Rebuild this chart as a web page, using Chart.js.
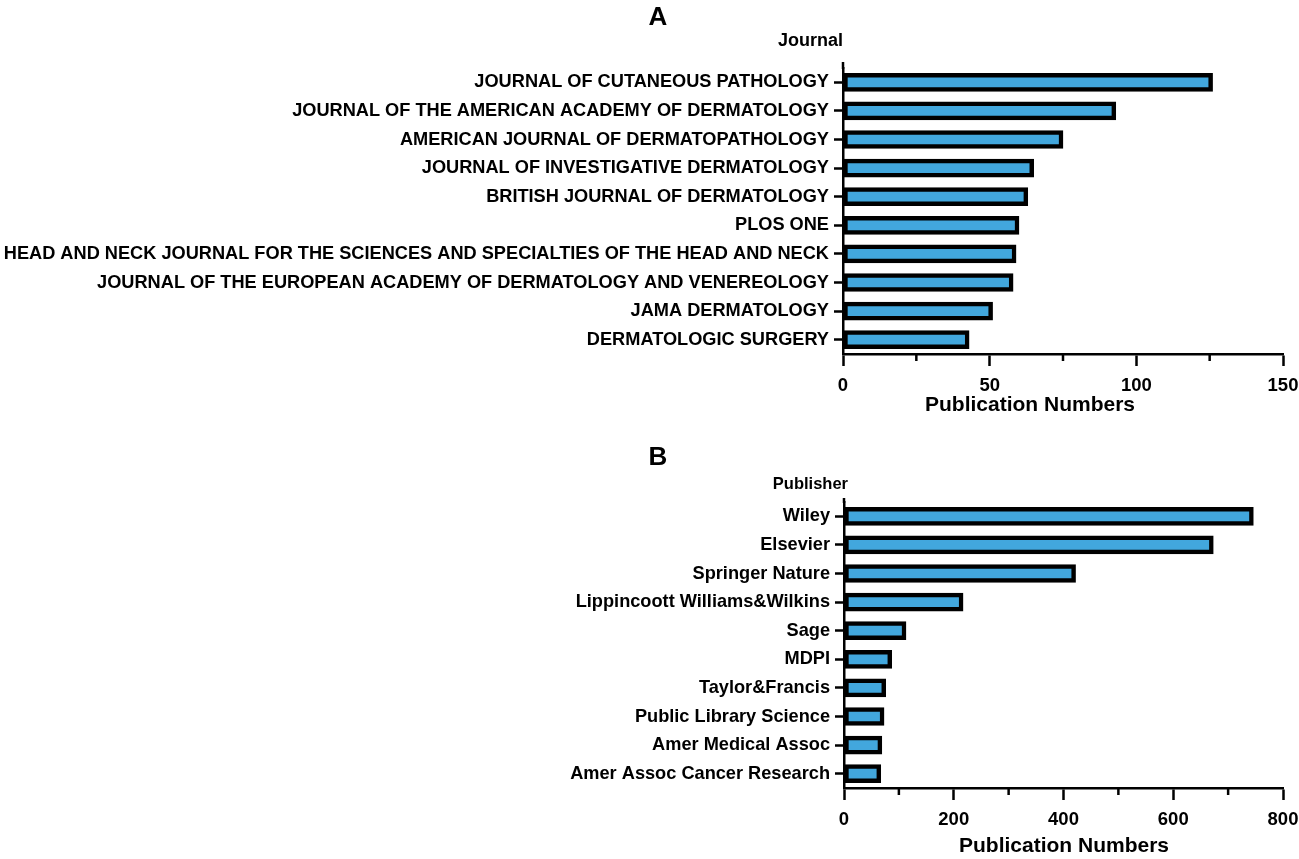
<!DOCTYPE html>
<html lang="en">
<head>
    <meta charset="UTF-8">
    <title>Journals and publishers</title>
    <script src="https://cdn.jsdelivr.net/npm/chart.js"></script>
    <style>
        html, body { margin: 0; padding: 0; background: #fff; }
        .panel { position: absolute; left: 0; width: 1299px; }
        #panelA { top: 0; height: 430px; }
        #panelB { top: 430px; height: 429px; }
    </style>
</head>
<body>
    <div class="panel" id="panelA"><canvas id="journalChart"></canvas></div>
    <div class="panel" id="panelB"><canvas id="publisherChart"></canvas></div>

    <script>
        // Panel A - journals
        const journals = [
            'JOURNAL OF CUTANEOUS PATHOLOGY',
            'JOURNAL OF THE AMERICAN ACADEMY OF DERMATOLOGY',
            'AMERICAN JOURNAL OF DERMATOPATHOLOGY',
            'JOURNAL OF INVESTIGATIVE DERMATOLOGY',
            'BRITISH JOURNAL OF DERMATOLOGY',
            'PLOS ONE',
            'HEAD AND NECK JOURNAL FOR THE SCIENCES AND SPECIALTIES OF THE HEAD AND NECK',
            'JOURNAL OF THE EUROPEAN ACADEMY OF DERMATOLOGY AND VENEREOLOGY',
            'JAMA DERMATOLOGY',
            'DERMATOLOGIC SURGERY'
        ];
        const journalCounts = [126, 93, 75, 65, 63, 60, 59, 58, 51, 43];
        const journalMajorTicks = [0, 50, 100, 150];
        const journalMinorTicks = [25, 75, 125];

        // Panel B - publishers
        const publishers = [
            'Wiley',
            'Elsevier',
            'Springer Nature',
            'Lippincoott Williams&Wilkins',
            'Sage',
            'MDPI',
            'Taylor&Francis',
            'Public Library Science',
            'Amer Medical Assoc',
            'Amer Assoc Cancer Research'
        ];
        const publisherCounts = [746, 673, 422, 217, 113, 87, 76, 73, 69, 67];
        const publisherMajorTicks = [0, 200, 400, 600, 800];
        const publisherMinorTicks = [100, 300, 500, 700];

        const FONT = "'Liberation Sans', Arial, Helvetica, sans-serif";
        const BAR_BLUE = '#42a7dd';

        // panel letter, captions, axis stub and the short minor ticks
        const decorPlugin = {
            id: 'decor',
            afterDraw(chart, args, opts) {
                const ctx = chart.ctx;
                const area = chart.chartArea;
                const xs = chart.scales.x;
                ctx.save();
                ctx.fillStyle = '#000';
                ctx.textBaseline = 'middle';
                ctx.textAlign = 'center';
                ctx.font = 'bold 26px ' + FONT;
                ctx.fillText(opts.letter, opts.letterX, opts.letterY);
                ctx.font = 'bold 21px ' + FONT;
                ctx.fillText('Publication Numbers', opts.titleX, opts.titleY);
                ctx.font = 'bold ' + opts.captionSize + 'px ' + FONT;
                ctx.textAlign = 'right';
                ctx.fillText(opts.caption, area.left + opts.captionDx, opts.captionY);

                ctx.strokeStyle = '#000';
                ctx.lineWidth = 2.5;
                // y axis line runs a little above the first category
                ctx.beginPath();
                ctx.moveTo(area.left, area.top - opts.axisStub);
                ctx.lineTo(area.left, area.top + 1);
                ctx.stroke();
                opts.minor.forEach(v => {
                    const px = xs.getPixelForValue(v);
                    ctx.beginPath();
                    ctx.moveTo(px, area.bottom);
                    ctx.lineTo(px, area.bottom + 7);
                    ctx.stroke();
                });
                ctx.restore();
            }
        };

        function makeChart(id, labels, values, majors, cfg) {
            const ctx = document.getElementById(id).getContext('2d');
            return new Chart(ctx, {
                type: 'bar',
                data: {
                    labels: labels,
                    datasets: [{
                        data: values,
                        backgroundColor: BAR_BLUE,
                        borderColor: '#000',
                        borderWidth: 4.5,
                        borderSkipped: false,
                        barThickness: 18
                    }]
                },
                options: {
                    indexAxis: 'y',
                    responsive: true,
                    maintainAspectRatio: false,
                    animation: false,
                    layout: { padding: { left: 0, right: 16, top: cfg.top, bottom: 0 } },
                    plugins: {
                        legend: { display: false },
                        tooltip: { enabled: false },
                        decor: cfg.decor
                    },
                    scales: {
                        x: {
                            type: 'linear',
                            min: majors[0],
                            max: majors[majors.length - 1],
                            afterBuildTicks: scale => {
                                scale.ticks = majors.map(v => ({ value: v }));
                            },
                            afterFit: scale => {
                                scale.height = cfg.xHeight;
                                scale.paddingRight = 0;
                                scale.paddingLeft = 0;
                            },
                            border: { display: true, color: '#000', width: 2.5 },
                            grid: {
                                display: true,
                                drawOnChartArea: false,
                                drawTicks: true,
                                tickLength: 12,
                                tickWidth: 2.5,
                                tickColor: '#000'
                            },
                            ticks: {
                                color: '#000',
                                padding: 9,
                                maxRotation: 0,
                                font: { family: FONT, size: 18.5, weight: 'bold' }
                            }
                        },
                        y: {
                            afterFit: scale => { scale.width = cfg.yWidth; },
                            border: { display: true, color: '#000', width: 2.5 },
                            grid: {
                                display: true,
                                offset: false,
                                drawOnChartArea: false,
                                drawTicks: true,
                                tickLength: 9,
                                tickWidth: 2.5,
                                tickColor: '#000'
                            },
                            ticks: {
                                color: '#000',
                                padding: 5,
                                autoSkip: false,
                                font: { family: FONT, size: cfg.labelSize, weight: 'bold' }
                            }
                        }
                    }
                },
                plugins: [decorPlugin]
            });
        }

        makeChart('journalChart', journals, journalCounts, journalMajorTicks, {
            top: 68, xHeight: 76, yWidth: 843, labelSize: 18.2,
            decor: {
                letter: 'A', letterX: 658, letterY: 18,
                caption: 'Journal', captionSize: 18, captionDx: 0, captionY: 41,
                titleX: 1030, titleY: 405,
                axisStub: 6,
                minor: journalMinorTicks
            }
        });

        makeChart('publisherChart', publishers, publisherCounts, publisherMajorTicks, {
            top: 72, xHeight: 71, yWidth: 844, labelSize: 18.2,
            decor: {
                letter: 'B', letterX: 658, letterY: 28,
                caption: 'Publisher', captionSize: 16.5, captionDx: 4, captionY: 54,
                titleX: 1064, titleY: 416,
                axisStub: 4,
                minor: publisherMinorTicks
            }
        });
    </script>
</body>
</html>
